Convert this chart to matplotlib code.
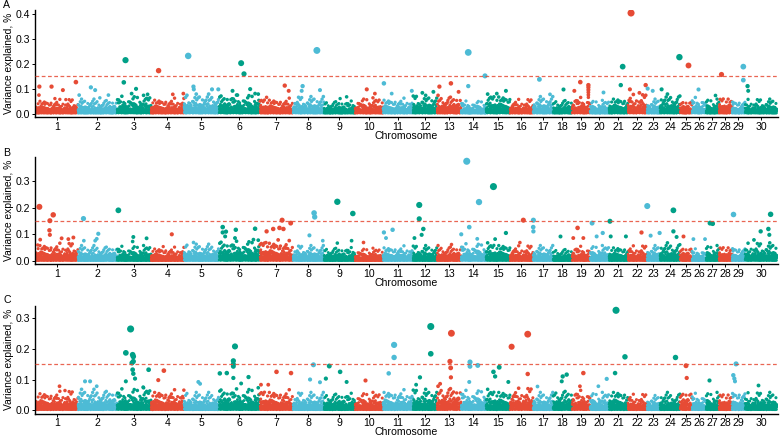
import numpy as np
import matplotlib
matplotlib.use("Agg")
import matplotlib.pyplot as plt

plt.rcParams['font.family'] = ['Liberation Sans', 'DejaVu Sans']

# marker counts per chromosome (chromosome 30 = X)
chrom_labels = [str(i) for i in range(1, 31)]
n_markers = [420, 390, 340, 330, 350, 410, 330, 310, 310, 280,
             300, 240, 240, 250, 240, 230, 200, 190, 180, 190,
             190, 190, 130, 200, 120, 140, 130, 130, 130, 320]

# height of the dense background cloud per chromosome (variance explained, %)
band_A = [0.058, 0.058, 0.073, 0.063, 0.078, 0.078, 0.063, 0.068, 0.053, 0.063,
          0.063, 0.073, 0.073, 0.053, 0.078, 0.058, 0.068, 0.058, 0.068, 0.053,
          0.068, 0.078, 0.058, 0.078, 0.058, 0.068, 0.058, 0.068, 0.058, 0.058]
band_B = [0.068, 0.058, 0.058, 0.053, 0.063, 0.078, 0.078, 0.058, 0.053, 0.048,
          0.058, 0.058, 0.058, 0.068, 0.068, 0.058, 0.058, 0.048, 0.058, 0.058,
          0.058, 0.058, 0.058, 0.068, 0.058, 0.048, 0.058, 0.058, 0.058, 0.068]
band_C = [0.063, 0.068, 0.073, 0.068, 0.058, 0.073, 0.068, 0.058, 0.058, 0.058,
          0.068, 0.068, 0.078, 0.068, 0.068, 0.073, 0.058, 0.068, 0.068, 0.058,
          0.068, 0.053, 0.048, 0.058, 0.068, 0.058, 0.058, 0.058, 0.068, 0.058]

# relative heights inside the cloud (typical spread)
tex1 = [0.30, 0.08, 0.45, 0.18, 0.04, 0.36, 0.24, 0.12, 0.85, 0.28, 0.20,
        0.06, 0.40, 0.26, 0.14, 0.62, 0.10, 0.33, 0.22, 0.02, 0.30, 1.00,
        0.16, 0.38, 0.11, 0.25, 0.72, 0.19, 0.05, 0.34, 0.48]
tex2 = [0.90, 0.55, 1.00, 0.70, 0.35, 0.85, 0.60, 0.95, 0.45, 0.80, 0.65,
        1.00, 0.50, 0.75, 0.88, 0.40, 0.98, 0.62, 0.82, 0.30, 0.92, 0.68,
        0.78, 0.52, 1.00, 0.72, 0.58, 0.86, 0.48, 0.94, 0.66, 0.76, 0.38,
        0.84, 0.60, 0.96, 0.70]

# (chromosome, position within chromosome, variance explained)
peaks_A = [(1, 0.08, 0.108), (1, 0.37, 0.108), (1, 0.64, 0.094), (1, 0.95, 0.126),
           (1, 0.07, 0.074), (1, 0.45, 0.060), (1, 0.71, 0.056),
           (2, 0.33, 0.105), (2, 0.44, 0.094), (2, 0.03, 0.074), (2, 0.56, 0.063), (2, 0.78, 0.074),
           (3, 0.25, 0.214), (3, 0.20, 0.125), (3, 0.56, 0.099), (3, 0.43, 0.080), (3, 0.90, 0.077),
           (4, 0.23, 0.172), (4, 0.98, 0.080), (4, 0.66, 0.077),
           (5, 0.12, 0.231), (5, 0.27, 0.108), (5, 0.28, 0.097), (5, 0.80, 0.097), (5, 0.98, 0.097),
           (6, 0.54, 0.202), (6, 0.61, 0.159), (6, 0.76, 0.098), (6, 0.33, 0.091), (6, 0.45, 0.074),
           (6, 0.88, 0.080),
           (7, 0.75, 0.112), (7, 0.87, 0.091), (7, 0.20, 0.065),
           (8, 0.77, 0.253), (8, 0.31, 0.110), (8, 0.28, 0.091), (8, 0.87, 0.094),
           (9, 0.73, 0.067), (9, 0.52, 0.060),
           (10, 0.42, 0.097), (10, 0.71, 0.080),
           (11, 0.03, 0.121), (11, 0.29, 0.080), (11, 0.96, 0.091),
           (12, 0.39, 0.083), (12, 0.85, 0.087),
           (13, 0.10, 0.108), (13, 0.58, 0.121), (13, 0.90, 0.087),
           (14, 0.29, 0.245), (14, 0.96, 0.151), (14, 0.29, 0.110),
           (15, 0.83, 0.091), (15, 0.45, 0.080),
           (17, 0.32, 0.137), (17, 0.85, 0.077),
           (18, 0.51, 0.097),
           (19, 0.46, 0.126), (19, 0.13, 0.091), (19, 0.91, 0.114), (19, 0.91, 0.105),
           (19, 0.91, 0.095), (19, 0.91, 0.085), (19, 0.91, 0.075), (19, 0.91, 0.065),
           (20, 0.67, 0.087),
           (21, 0.72, 0.188), (21, 0.62, 0.114),
           (22, 0.16, 0.403), (22, 0.10, 0.097), (22, 0.60, 0.083), (22, 0.93, 0.114),
           (23, 0.05, 0.100), (23, 0.44, 0.091),
           (24, 0.97, 0.226), (24, 0.08, 0.097),
           (25, 0.69, 0.194),
           (26, 0.45, 0.097),
           (27, 0.69, 0.074),
           (28, 0.15, 0.157),
           (29, 0.87, 0.188), (29, 0.87, 0.134),
           (30, 0.08, 0.110), (30, 0.10, 0.091)]

peaks_B = [(1, 0.08, 0.203), (1, 0.41, 0.173), (1, 0.33, 0.151), (1, 0.32, 0.115),
           (1, 0.33, 0.098), (1, 0.10, 0.080), (1, 0.61, 0.085), (1, 0.77, 0.082),
           (1, 0.89, 0.088), (1, 0.04, 0.060),
           (2, 0.14, 0.159), (2, 0.52, 0.102), (2, 0.48, 0.083), (2, 0.44, 0.076), (2, 0.15, 0.076),
           (3, 0.04, 0.190), (3, 0.48, 0.090), (3, 0.87, 0.085), (3, 0.46, 0.073),
           (4, 0.63, 0.100), (4, 0.37, 0.054),
           (5, 0.27, 0.070),
           (6, 0.09, 0.127), (6, 0.09, 0.107), (6, 0.17, 0.110), (6, 0.41, 0.117),
           (6, 0.15, 0.092), (6, 0.39, 0.086), (6, 0.88, 0.121), (6, 0.84, 0.080),
           (7, 0.67, 0.153), (7, 0.93, 0.142), (7, 0.59, 0.124), (7, 0.40, 0.120),
           (7, 0.20, 0.111), (7, 0.71, 0.120), (7, 0.18, 0.069), (7, 0.55, 0.079),
           (8, 0.68, 0.180), (8, 0.70, 0.165), (8, 0.53, 0.096), (8, 0.96, 0.076),
           (9, 0.43, 0.222), (9, 0.93, 0.178), (9, 0.43, 0.067), (9, 0.89, 0.076),
           (10, 0.27, 0.073),
           (11, 0.03, 0.107), (11, 0.32, 0.117), (11, 0.10, 0.086),
           (12, 0.26, 0.210), (12, 0.26, 0.158), (12, 0.43, 0.120), (12, 0.36, 0.098),
           (12, 0.06, 0.086),
           (13, 0.58, 0.064),
           (14, 0.23, 0.374), (14, 0.72, 0.221), (14, 0.33, 0.127), (14, 0.01, 0.100),
           (14, 0.65, 0.083),
           (15, 0.31, 0.279), (15, 0.83, 0.105), (15, 0.38, 0.082),
           (16, 0.58, 0.153), (16, 0.43, 0.069),
           (17, 0.02, 0.153), (17, 0.01, 0.127), (17, 0.02, 0.111),
           (18, 0.37, 0.092),
           (19, 0.31, 0.124), (19, 0.07, 0.086), (19, 0.63, 0.086),
           (20, 0.11, 0.142), (20, 0.67, 0.105), (20, 0.35, 0.092),
           (21, 0.05, 0.149), (21, 0.09, 0.092), (21, 0.89, 0.092),
           (22, 0.67, 0.107),
           (23, 0.02, 0.206), (23, 0.28, 0.095), (23, 0.97, 0.105),
           (24, 0.67, 0.190), (24, 0.67, 0.111), (24, 0.83, 0.090),
           (25, 0.22, 0.092),
           (26, 0.10, 0.082), (26, 0.93, 0.082),
           (27, 0.31, 0.142), (27, 0.51, 0.140),
           (29, 0.10, 0.178),
           (30, 0.80, 0.175), (30, 0.49, 0.111), (30, 0.73, 0.120), (30, 0.76, 0.098),
           (30, 0.28, 0.079)]

peaks_C = [(1, 0.56, 0.078), (1, 0.69, 0.064),
           (2, 0.18, 0.094), (2, 0.31, 0.094), (2, 0.48, 0.078),
           (3, 0.40, 0.265), (3, 0.26, 0.187), (3, 0.46, 0.181), (3, 0.48, 0.175),
           (3, 0.48, 0.159), (3, 0.44, 0.154), (3, 0.46, 0.132), (3, 0.48, 0.119),
           (3, 0.53, 0.103), (3, 0.26, 0.094), (3, 0.93, 0.132), (3, 0.77, 0.075),
           (4, 0.39, 0.129), (4, 0.22, 0.098),
           (5, 0.41, 0.092), (5, 0.46, 0.086),
           (6, 0.39, 0.208), (6, 0.35, 0.161), (6, 0.35, 0.150), (6, 0.35, 0.143),
           (6, 0.02, 0.120), (6, 0.19, 0.121), (6, 0.35, 0.105), (6, 0.72, 0.108),
           (6, 0.54, 0.087),
           (7, 0.50, 0.125), (7, 0.94, 0.121), (7, 0.03, 0.083), (7, 0.25, 0.083),
           (8, 0.66, 0.148), (8, 0.55, 0.100), (8, 0.87, 0.091),
           (9, 0.17, 0.144), (9, 0.52, 0.125), (9, 0.06, 0.103), (9, 0.73, 0.092),
           (10, 0.36, 0.100),
           (11, 0.37, 0.213), (11, 0.37, 0.172), (11, 0.19, 0.120),
           (12, 0.74, 0.273), (12, 0.74, 0.184), (12, 0.29, 0.107), (12, 0.13, 0.083),
           (13, 0.60, 0.251), (13, 0.54, 0.159), (13, 0.57, 0.138), (13, 0.58, 0.107),
           (13, 0.13, 0.086),
           (14, 0.36, 0.157), (14, 0.36, 0.143), (14, 0.67, 0.146), (14, 0.33, 0.092),
           (15, 0.55, 0.140), (15, 0.31, 0.125), (15, 0.38, 0.110), (15, 0.93, 0.092),
           (16, 0.07, 0.207), (16, 0.77, 0.248), (16, 0.77, 0.118),
           (17, 0.18, 0.078),
           (18, 0.72, 0.116), (18, 0.51, 0.110), (18, 0.46, 0.094),
           (19, 0.63, 0.121), (19, 0.44, 0.078),
           (20, 0.88, 0.102), (20, 0.44, 0.078),
           (21, 0.37, 0.326), (21, 0.84, 0.174), (21, 0.32, 0.121),
           (24, 0.75, 0.172),
           (25, 0.50, 0.145), (25, 0.56, 0.105),
           (27, 0.25, 0.100),
           (29, 0.31, 0.151), (29, 0.10, 0.114), (29, 0.18, 0.103), (29, 0.23, 0.094),
           (30, 0.42, 0.083)]

colors = ["#E64B35", "#4DBBD5", "#00A087"]
threshold = 0.15

starts = np.concatenate([[0], np.cumsum(n_markers)[:-1]])
total = sum(n_markers)
centers = starts + np.array(n_markers) / 2.0

W, H = 780, 436


def point_size(v):
    d = np.minimum(1.7 + 13.0 * np.asarray(v), 5.1)
    return d ** 2


def draw_panel(ax, band, peaks, ylim, yticks, axis_px):
    for c in range(30):
        n = n_markers[c]
        idx = np.arange(n)
        k = idx + int(starts[c])
        h = np.array([band[c] * tex1[j % len(tex1)] * tex2[j % len(tex2)] for j in k])
        xs = starts[c] + idx + 0.5
        ax.scatter(xs, h, s=point_size(h), color=colors[c % 3], linewidths=0, zorder=2)
    for c in range(30):
        pk = [p for p in peaks if p[0] == c + 1]
        if not pk:
            continue
        xs = [starts[c] + p[1] * n_markers[c] for p in pk]
        vs = [p[2] for p in pk]
        ax.scatter(xs, vs, s=point_size(vs), color=colors[c % 3], linewidths=0, zorder=3)

    ax.axhline(threshold, color="#E64B35", lw=0.9, ls=(0, (3, 2)), alpha=0.85, zorder=4)
    ax.set_xlim(-10, total + 10)
    ax.set_ylim(*ylim)
    ax.set_yticks(yticks)
    ax.set_yticklabels(["%.1f" % t for t in yticks])
    ax.set_xticks(centers)
    ax.set_xticklabels(chrom_labels)
    for s in ["top", "right"]:
        ax.spines[s].set_visible(False)
    for s in ["left", "bottom"]:
        ax.spines[s].set_linewidth(1.0)
    ax.tick_params(axis="both", length=2.0, width=0.7, labelsize=7.6, pad=1.5, colors="black")
    ax.set_ylabel("Variance explained, %", fontsize=7.4, labelpad=1.5)
    # x title placed below the tick labels, as in the original layout
    fig.text(0.5 * (35 + 778) / W, 1 - (axis_px + 18.5) / H, "Chromosome",
             fontsize=7.6, ha="center", va="center")


fig = plt.figure(figsize=(W / 100, H / 100), dpi=100)

left = 35 / W
width = (778 - 35) / W
axA = fig.add_axes([left, 1 - 117.3 / H, width, (117.3 - 10) / H])
axB = fig.add_axes([left, 1 - 264.3 / H, width, (264.3 - 157) / H])
axC = fig.add_axes([left, 1 - 413.5 / H, width, (413.5 - 305.7) / H])

draw_panel(axA, band_A, peaks_A, (-0.015, 0.415), [0.0, 0.1, 0.2, 0.3, 0.4], 117.3)
draw_panel(axB, band_B, peaks_B, (-0.0125, 0.39), [0.0, 0.1, 0.2, 0.3], 264.3)
draw_panel(axC, band_C, peaks_C, (-0.011, 0.341), [0.0, 0.1, 0.2, 0.3], 413.5)

fig.text(3 / W, 1 - 5 / H, "A", fontsize=7.6, ha="left", va="center")
fig.text(3 / W, 1 - 152.5 / H, "B", fontsize=7.6, ha="left", va="center")
fig.text(3 / W, 1 - 300 / H, "C", fontsize=7.6, ha="left", va="center")

fig.savefig("out.png", dpi=100)
